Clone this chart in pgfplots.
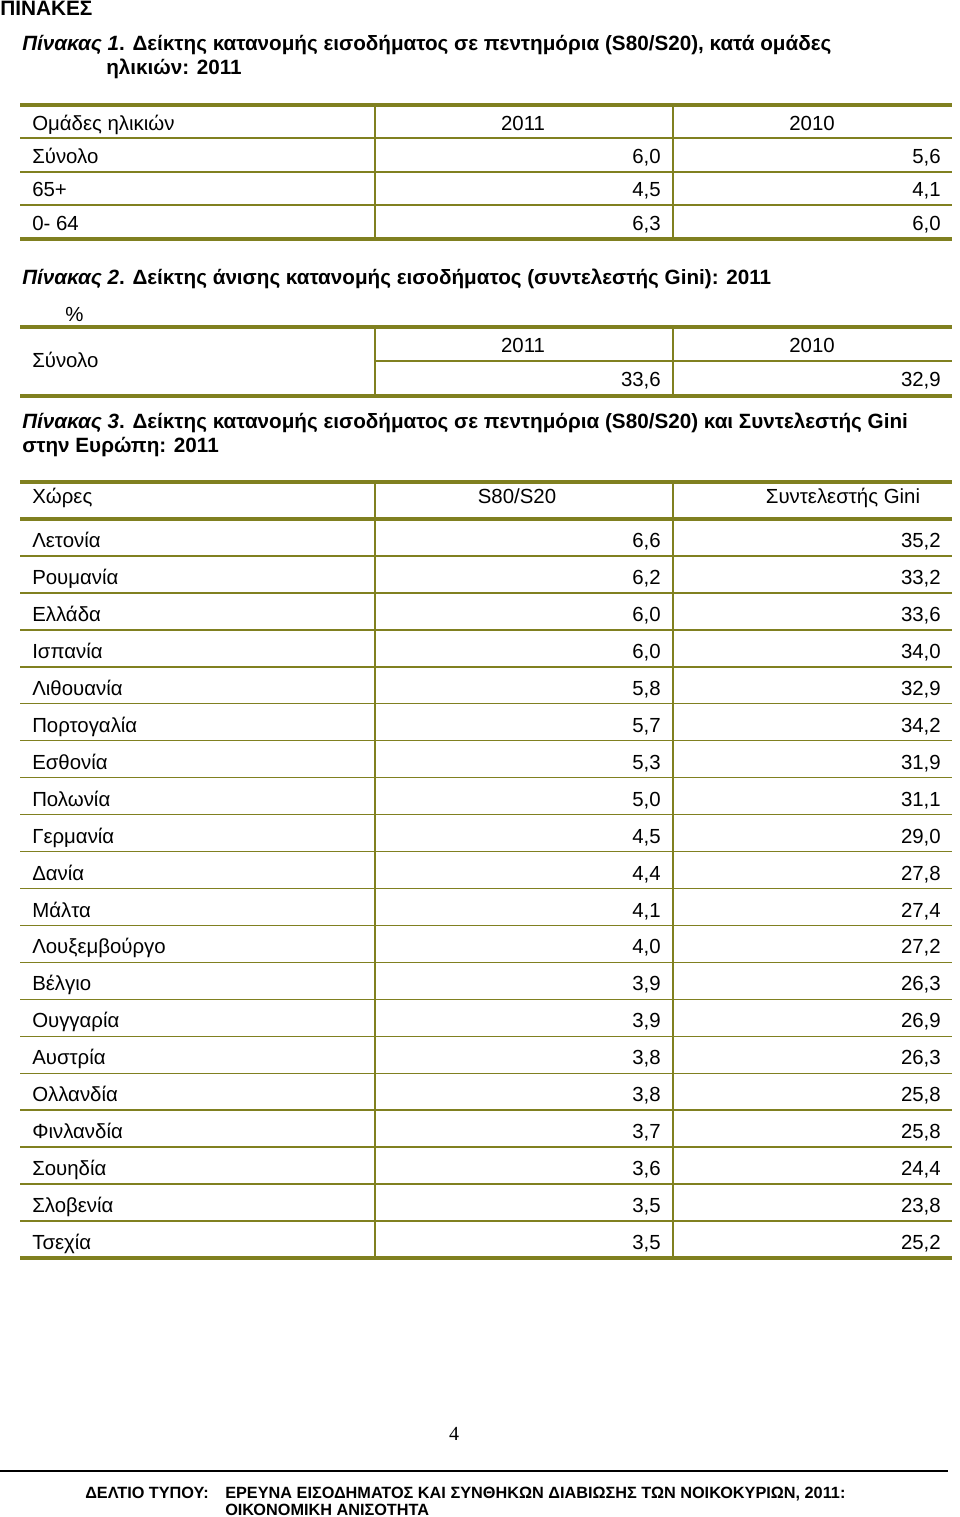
\documentclass[border=0pt]{standalone}
\usepackage{fontspec}
\setmainfont{Liberation Sans}
\newfontfamily\seriffont{Liberation Serif}
\usepackage{pgfplots}
\usepackage{pgfplotstable}
\pgfplotsset{compat=1.18}
\definecolor{olv}{RGB}{128,128,32}
\newcommand{\bodyfont}{\fontsize{15.3}{18}\selectfont}
\newcommand{\titlefont}{\fontsize{15.5}{18}\selectfont\bfseries}

\pgfplotstableread[col sep=comma]{
name,y11,y10
Σύνολο,6.0,5.6
65+,4.5,4.1
0- 64,6.3,6.0
}\tabone

\pgfplotstableread[col sep=comma]{
name,y11,y10
Σύνολο,33.6,32.9
}\tabtwo

\pgfplotstableread[col sep=comma]{
name,s80,gini
Λετονία,6.6,35.2
Ρουμανία,6.2,33.2
Ελλάδα,6.0,33.6
Ισπανία,6.0,34.0
Λιθουανία,5.8,32.9
Πορτογαλία,5.7,34.2
Εσθονία,5.3,31.9
Πολωνία,5.0,31.1
Γερμανία,4.5,29.0
Δανία,4.4,27.8
Μάλτα,4.1,27.4
Λουξεμβούργο,4.0,27.2
Βέλγιο,3.9,26.3
Ουγγαρία,3.9,26.9
Αυστρία,3.8,26.3
Ολλανδία,3.8,25.8
Φινλανδία,3.7,25.8
Σουηδία,3.6,24.4
Σλοβενία,3.5,23.8
Τσεχία,3.5,25.2
}\tabthree

\begin{document}
\begin{tikzpicture}
\begin{axis}[
  scale only axis, width=720pt, height=1137.75pt,
  xmin=0, xmax=960, ymin=0, ymax=1517, y dir=reverse,
  axis lines=none, clip=false,
  numlabel/.style={only marks, mark=none, point meta=explicit,
    nodes near coords={\pgfmathprintnumber[fixed,fixed zerofill,precision=1,use comma,assume math mode=true]{\pgfplotspointmeta}},
    nodes near coords style={anchor=base east, font=\bodyfont, inner sep=0pt, text=black}},
  namelabel/.style={only marks, mark=none, point meta=explicit symbolic,
    nodes near coords,
    nodes near coords style={anchor=base west, font=\bodyfont, inner sep=0pt, text=black}},
]
% ---- headings
\node[anchor=base west, inner sep=0pt, font=\fontsize{15.6}{18}\selectfont\bfseries] at (axis cs:0,15) {ΠΙΝΑΚΕΣ};
\node[anchor=base west, inner sep=0pt, font=\titlefont] at (axis cs:22,50) {\textit{Πίνακας 1}. Δείκτης κατανομής εισοδήματος σε πεντημόρια (S80/S20), κατά ομάδες};
\node[anchor=base west, inner sep=0pt, font=\titlefont] at (axis cs:106,74) {ηλικιών: 2011};

% ---- table 1 lines
\draw[olv, line width=3pt] (axis cs:20,105) -- (axis cs:952,105);
\draw[olv, line width=1.1pt] (axis cs:20,138) -- (axis cs:952,138);
\draw[olv, line width=1.1pt] (axis cs:20,172) -- (axis cs:952,172);
\draw[olv, line width=1.1pt] (axis cs:20,205) -- (axis cs:952,205);
\draw[olv, line width=3pt] (axis cs:20,239) -- (axis cs:952,239);
\draw[olv, line width=1.1pt] (axis cs:375,106) -- (axis cs:375,238);
\draw[olv, line width=1.1pt] (axis cs:673,106) -- (axis cs:673,238);
\node[anchor=base west, inner sep=0pt, font=\bodyfont] at (axis cs:32,130) {Ομάδες ηλικιών};
\node[anchor=base, inner sep=0pt, font=\bodyfont] at (axis cs:523,130) {2011};
\node[anchor=base, inner sep=0pt, font=\bodyfont] at (axis cs:812,130) {2010};
\addplot[namelabel] table[x expr=32, y expr=163+33.5*\coordindex, meta=name]{\tabone};
\addplot[numlabel] table[x expr=661, y expr=163+33.5*\coordindex, meta=y11]{\tabone};
\addplot[numlabel] table[x expr=941, y expr=163+33.5*\coordindex, meta=y10]{\tabone};

% ---- table 2
\node[anchor=base west, inner sep=0pt, font=\titlefont] at (axis cs:22,284) {\textit{Πίνακας 2}. Δείκτης άνισης κατανομής εισοδήματος (συντελεστής Gini): 2011};
\node[anchor=base west, inner sep=0pt, font=\bodyfont] at (axis cs:65,321) {\%};
\draw[olv, line width=3pt] (axis cs:20,327) -- (axis cs:952,327);
\draw[olv, line width=1.1pt] (axis cs:375,361) -- (axis cs:952,361);
\draw[olv, line width=3pt] (axis cs:20,396) -- (axis cs:952,396);
\draw[olv, line width=1.1pt] (axis cs:375,328) -- (axis cs:375,395);
\draw[olv, line width=1.1pt] (axis cs:673,328) -- (axis cs:673,395);
\node[anchor=base, inner sep=0pt, font=\bodyfont] at (axis cs:523,352) {2011};
\node[anchor=base, inner sep=0pt, font=\bodyfont] at (axis cs:812,352) {2010};
\addplot[namelabel] table[x expr=32, y expr=367, meta=name]{\tabtwo};
\addplot[numlabel] table[x expr=661, y expr=386, meta=y11]{\tabtwo};
\addplot[numlabel] table[x expr=941, y expr=386, meta=y10]{\tabtwo};

% ---- table 3
\node[anchor=base west, inner sep=0pt, font=\titlefont] at (axis cs:22,428) {\textit{Πίνακας 3}. Δείκτης κατανομής εισοδήματος σε πεντημόρια (S80/S20) και Συντελεστής Gini};
\node[anchor=base west, inner sep=0pt, font=\titlefont] at (axis cs:22,452) {στην Ευρώπη: 2011};
\draw[olv, line width=3pt] (axis cs:20,482) -- (axis cs:952,482);
\draw[olv, line width=3pt] (axis cs:20,519) -- (axis cs:952,519);
\pgfplotsinvokeforeach{1,...,19}{
  \draw[olv, line width=1.1pt] (axis cs:20,{519+36.95*#1}) -- (axis cs:952,{519+36.95*#1});
}
\draw[olv, line width=3pt] (axis cs:20,1258) -- (axis cs:952,1258);
\draw[olv, line width=1.1pt] (axis cs:375,483) -- (axis cs:375,1257);
\draw[olv, line width=1.1pt] (axis cs:673,483) -- (axis cs:673,1257);
\node[anchor=base west, inner sep=0pt, font=\bodyfont] at (axis cs:32,503) {Χώρες};
\node[anchor=base, inner sep=0pt, font=\bodyfont] at (axis cs:517,503) {S80/S20};
\node[anchor=base, inner sep=0pt, font=\bodyfont] at (axis cs:843,503) {Συντελεστής Gini};
\addplot[namelabel] table[x expr=32, y expr=547.5+36.95*\coordindex, meta=name]{\tabthree};
\addplot[numlabel] table[x expr=661, y expr=547.5+36.95*\coordindex, meta=s80]{\tabthree};
\addplot[numlabel] table[x expr=941, y expr=547.5+36.95*\coordindex, meta=gini]{\tabthree};

% ---- footer
\node[anchor=base, inner sep=0pt, font=\fontsize{15}{18}\selectfont\seriffont] at (axis cs:454,1440) {4};
\draw[black, line width=1.5pt] (axis cs:0,1471) -- (axis cs:948,1471);
\node[anchor=base west, inner sep=0pt, font=\fontsize{12.2}{15}\selectfont\bfseries] at (axis cs:85,1498) {ΔΕΛΤΙΟ ΤΥΠΟΥ:};
\node[anchor=base west, inner sep=0pt, font=\fontsize{12.2}{15}\selectfont\bfseries] at (axis cs:225,1498) {ΕΡΕΥΝΑ ΕΙΣΟΔΗΜΑΤΟΣ ΚΑΙ ΣΥΝΘΗΚΩΝ ΔΙΑΒΙΩΣΗΣ ΤΩΝ ΝΟΙΚΟΚΥΡΙΩΝ, 2011:};
\node[anchor=base west, inner sep=0pt, font=\fontsize{12.2}{15}\selectfont\bfseries] at (axis cs:225,1515) {ΟΙΚΟΝΟΜΙΚΗ ΑΝΙΣΟΤΗΤΑ};
\end{axis}
\pgfresetboundingbox
\path (0,0) rectangle (720pt,1137.75pt);
\end{tikzpicture}
\end{document}
